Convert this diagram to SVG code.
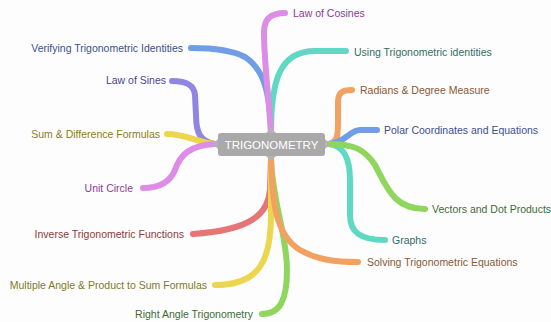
<svg xmlns="http://www.w3.org/2000/svg" width="551" height="322" viewBox="0 0 551 322">
<style>
.c{fill:none;stroke-width:6;stroke-linecap:round;stroke-linejoin:round}
.t{font-family:"Liberation Sans",Arial,sans-serif;font-size:10.5px;dominant-baseline:central}
.e{text-anchor:end}
.pink{stroke:#dd8de6}.blue{stroke:#6f9ee6}.teal{stroke:#5fd9c4}.purple{stroke:#8f86e3}
.yellow{stroke:#ecd64e}.orange{stroke:#f2a161}.green{stroke:#8fd65d}.red{stroke:#e67575}
</style>
<rect width="551" height="322" fill="#fdfdfd"/>
<g id="connectors">
<path class="c blue" d="M271,132 C270,95 265,70 245,57 C230,49 210,48 191,48"/>
<path class="c teal" d="M271,132 C271,80 280,51 315,51 L346,51"/>
<path class="c pink" d="M271,132 C268,90 264,60 264,32 C264,18 272,13 285,13"/>
<path class="c purple" d="M215,144 C200,142 196,132 196,115 L195,95 C194,84 185,81 172,81"/>
<path class="c yellow" d="M215,144 C200,143 185,134 167,134"/>
<path class="c pink" d="M215,144 C190,145 180,155 175,170 C170,182 160,188 143,188"/>
<path class="c orange" d="M329,144 C338,142 338,135 338,120 L338,102 C338,93 342,90 352,90"/>
<path class="c blue" d="M329,144 C345,143 350,130 360,130 L377,130"/>
<path class="c teal" d="M329,144 C345,146 350,160 350,180 L350,215 C350,232 360,240 385,240"/>
<path class="c green" d="M329,144 C355,144 365,150 375,165 C388,190 395,209 425,209"/>
<path class="c red" d="M271,158 L270,190 C268,215 250,230 193,234"/>
<path class="c yellow" d="M271,158 L271,215 C271,260 260,285 215,285"/>
<path class="c green" d="M271,158 C272,200 287,235 287,270 C287,300 280,314 262,314"/>
<path class="c orange" d="M271,158 C272,200 275,235 300,250 C318,260 335,262 358,262"/>
</g>
<g id="center">
<rect x="218" y="133" width="107" height="23" rx="3" fill="#a9a9a9"/>
<polygon points="218,139 213,144 218,149" fill="#b3b3b3"/>
<polygon points="325,139 330,144 325,149" fill="#b3b3b3"/>
<polygon points="266,133 271,128 276,133" fill="#b3b3b3"/>
<polygon points="266,156 271,161 276,156" fill="#b3b3b3"/>
<text x="271.5" y="144.5" text-anchor="middle" dominant-baseline="central" font-family="Liberation Sans,Arial,sans-serif" font-size="11.5" fill="#ffffff">TRIGONOMETRY</text>
</g>
<g id="law-of-cosines"><text class="t" x="293" y="13" fill="#8e3a91">Law of Cosines</text></g>
<g id="verifying"><text class="t e" x="183" y="48" fill="#3b4f8c">Verifying Trigonometric Identities</text></g>
<g id="using"><text class="t" x="354" y="52" fill="#2f6e66">Using Trigonometric identities</text></g>
<g id="law-of-sines"><text class="t e" x="166" y="80" fill="#4a4590">Law of Sines</text></g>
<g id="sum-difference"><text class="t e" x="160" y="134" fill="#8a7b25">Sum &amp; Difference Formulas</text></g>
<g id="unit-circle"><text class="t e" x="133" y="188" fill="#8e3a91">Unit Circle</text></g>
<g id="radians"><text class="t" x="360" y="90" fill="#8a5836">Radians &amp; Degree Measure</text></g>
<g id="polar"><text class="t" x="384" y="130" fill="#3b4f8c">Polar Coordinates and Equations</text></g>
<g id="vectors"><text class="t" x="432" y="209" fill="#3f6a38">Vectors and Dot Products</text></g>
<g id="graphs"><text class="t" x="392" y="240" fill="#2f6e6a">Graphs</text></g>
<g id="inverse"><text class="t e" x="184" y="234" fill="#8f3a3a">Inverse Trigonometric Functions</text></g>
<g id="multiple-angle"><text class="t e" x="207" y="285" fill="#7d7a25">Multiple Angle &amp; Product to Sum Formulas</text></g>
<g id="right-angle"><text class="t e" x="253" y="314" fill="#3f6a38">Right Angle Trigonometry</text></g>
<g id="solving"><text class="t" x="367" y="262" fill="#8a5836">Solving Trigonometric Equations</text></g>
</svg>
